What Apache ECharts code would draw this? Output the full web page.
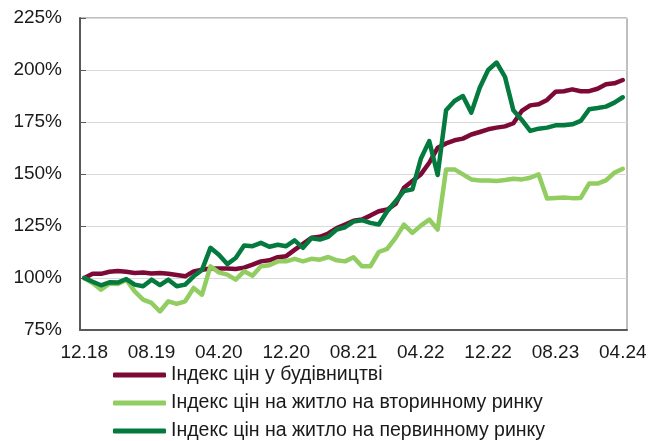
<!DOCTYPE html>
<html>
<head>
<meta charset="utf-8">
<script src="https://cdn.jsdelivr.net/npm/echarts@6/dist/echarts.min.js"></script>
<style>html,body{margin:0;padding:0;background:#fff}#c{width:650px;height:441px}</style>
</head>
<body>
<div id="c"></div>
<script>
const categories = [
  "12.18","01.19","02.19","03.19","04.19","05.19","06.19","07.19","08.19","09.19","10.19","11.19",
  "12.19","01.20","02.20","03.20","04.20","05.20","06.20","07.20","08.20","09.20","10.20","11.20",
  "12.20","01.21","02.21","03.21","04.21","05.21","06.21","07.21","08.21","09.21","10.21","11.21",
  "12.21","01.22","02.22","03.22","04.22","05.22","06.22","07.22","08.22","09.22","10.22","11.22",
  "12.22","01.23","02.23","03.23","04.23","05.23","06.23","07.23","08.23","09.23","10.23","11.23",
  "12.23","01.24","02.24","03.24","04.24"
];
const seriesNames = [
  "Індекс цін у будівництві",
  "Індекс цін на житло на вторинному ринку",
  "Індекс цін на житло на первинному ринку"
];
const construction = [
  100,102,102,103,103.4,103,102.4,102.6,102.2,102.4,102,101.4,
  100.8,103.2,104,104.6,104.6,104.6,104.3,105,106.4,108,108.5,110,
  110.5,113.5,116.4,119.3,119.8,121.4,124,125.7,127.5,128.1,130,132.1,
  132.9,135.6,143.4,146.6,149.8,155.4,162.6,164.7,166.2,167,169,170.2,
  171.5,172.3,172.9,174.4,180.3,183,183.5,185.6,189.5,189.8,190.7,189.8,
  189.8,191,193.1,193.6,195.2
];
const secondary = [
  100,97.6,94.4,97.3,97.1,99.2,93.6,89.6,88,83.9,88.8,87.6,
  88.8,95.2,92,105.6,102.7,101.6,99.2,103.2,101.1,105.6,106.1,108,
  108,109.2,108,109.2,108.8,110.1,108.5,108,110,105.6,105.6,112.5,
  114,119.3,125.7,121.7,125.2,128.1,123.3,152.2,152.2,149.8,147.4,146.9,
  146.9,146.6,147.1,147.7,147.4,148.2,149.8,138.2,138.5,138.7,138.4,138.5,
  145.4,145.4,146.9,150.6,152.5
];
const primary = [
  100,98.2,96.5,97.9,97.8,99.5,96.8,96,99.2,96.6,99.2,96,
  96.8,100.8,103.9,114.5,111.2,106.7,109.6,115.6,115.3,116.9,115,116,
  115.3,118.1,114.5,119.1,118.5,119.8,123.3,124.4,127.1,127.8,126.5,125.7,
  132.1,136.9,141.8,142.6,157.3,165.8,149.5,180.6,185.1,187.5,179.5,191.5,
  200,203.6,196.7,180.6,176,170.7,171.8,172.3,173.4,173.4,173.9,175.5,
  181.1,181.7,182.4,184.3,186.9
];
const colors = ["#7D0A36", "#92CD62", "#047A3F"];
const font = "'Liberation Sans', Arial, sans-serif";

const chart = echarts.init(document.getElementById('c'), null, {renderer: 'canvas'});
const mk = (name, data, color) => ({
  name, type: 'line', data, symbol: 'none', smooth: false,
  lineStyle: {width: 4.5, color, cap: 'round', join: 'round'},
  itemStyle: {color}
});
chart.setOption({
  animation: false,
  color: colors,
  grid: {left: 80, right: 23, top: 18, bottom: 111, show: true, borderColor: '#7f7f7f', borderWidth: 1},
  xAxis: {
    type: 'category', data: categories, boundaryGap: true,
    axisLine: {lineStyle: {color: '#595959', width: 2}},
    axisTick: {inside: true, length: 5, interval: 7, lineStyle: {color: '#595959', width: 1}},
    axisLabel: {interval: 7, color: '#1a1a1a', fontSize: 19, fontFamily: font, margin: 13},
    splitLine: {show: false}
  },
  yAxis: {
    type: 'value', min: 75, max: 225, interval: 25,
    axisLine: {show: true, lineStyle: {color: '#595959', width: 2}},
    axisTick: {show: true, inside: true, length: 6, lineStyle: {color: '#595959'}},
    axisLabel: {formatter: '{value}%', color: '#1a1a1a', fontSize: 19, fontFamily: font, margin: 18},
    splitLine: {lineStyle: {color: '#d9d9d9', width: 1}}
  },
  legend: {
    orient: 'vertical', left: 113, top: 365, height: 100, padding: 0,
    itemWidth: 53, itemHeight: 5, itemGap: 8,
    icon: 'roundRect',
    textStyle: {color: '#1a1a1a', fontSize: 19.5, lineHeight: 19, fontFamily: font},
    data: seriesNames
  },
  series: [
    mk(seriesNames[0], construction, colors[0]),
    mk(seriesNames[1], secondary, colors[1]),
    mk(seriesNames[2], primary, colors[2])
  ]
});
</script>
</body>
</html>
